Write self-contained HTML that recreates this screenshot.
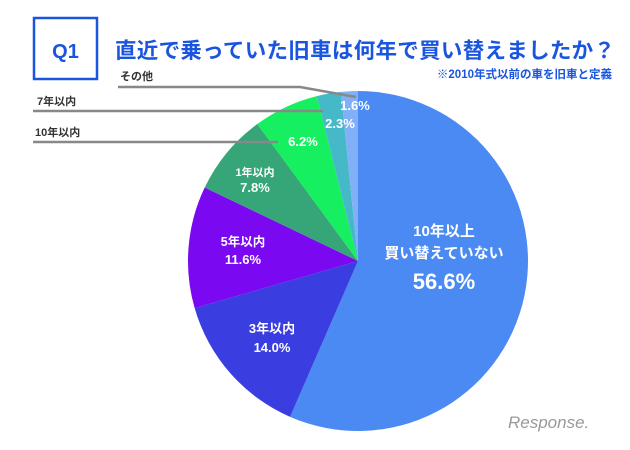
<!DOCTYPE html>
<html><head><meta charset="utf-8"><style>
body{margin:0;width:630px;height:445px;background:#fff;overflow:hidden;font-family:"Liberation Sans","Noto Sans CJK JP",sans-serif}
</style></head><body>
<svg width="630" height="445">
<rect x="34" y="18" width="63" height="61" fill="none" stroke="#1a55e0" stroke-width="2.5"/>
<text x="65.5" y="58" text-anchor="middle" font-size="20" font-weight="bold" fill="#1a55e0">Q1</text>
<text x="115" y="58" font-size="21.5" font-weight="bold" fill="#1a55e0" textLength="500">直近で乗っていた旧車は何年で買い替えましたか？</text>
<text x="612" y="78" text-anchor="end" font-size="11.5" font-weight="bold" fill="#1a55e0">※2010年式以前の車を旧車と定義</text>
<g id="slices"></g>
<g id="leaders" stroke="#888" stroke-width="2.5" fill="none">
<polyline points="118,87 300,87 356,97"/>
<line x1="33" y1="111" x2="323" y2="111"/>
<line x1="33" y1="142" x2="278" y2="142"/>
</g>
<g font-size="11" font-weight="bold" fill="#333">
<text x="120" y="80">その他</text>
<text x="37" y="105">7年以内</text>
<text x="35" y="136">10年以内</text>
</g>
<g fill="#fff" font-weight="bold" text-anchor="middle">
<text x="355" y="110" font-size="13">1.6%</text>
<text x="340" y="128" font-size="13">2.3%</text>
<text x="303" y="146" font-size="13">6.2%</text>
<text x="255" y="176" font-size="11">1年以内</text>
<text x="255" y="192" font-size="13">7.8%</text>
<text x="243" y="246" font-size="12.5">5年以内</text>
<text x="243" y="264" font-size="13">11.6%</text>
<text x="272" y="333" font-size="13">3年以内</text>
<text x="272" y="352" font-size="13">14.0%</text>
<text x="444" y="236" font-size="15">10年以上</text>
<text x="444" y="258" font-size="15">買い替えていない</text>
<text x="444" y="289" font-size="22">56.6%</text>
</g>
<text x="508" y="428" font-size="17" fill="#999" font-style="italic">Response.</text>
</svg>
<script>
const categories=["10年以上買い替えていない","3年以内","5年以内","1年以内","10年以内","7年以内","その他"];
const values=[56.6,14.0,11.6,7.8,6.2,2.3,1.6];
const colors=["#4a8af2","#3a3de0","#7a08f0","#36a678","#16f060","#45b9c8","#82b0f8"];
const cx=358,cy=261,r=170;
const g=document.getElementById('slices');
const total=values.reduce((a,b)=>a+b,0);
let a0=0;
values.forEach((v,i)=>{
  const a1=a0+v/total*2*Math.PI;
  const p=(a)=>[cx+r*Math.sin(a),cy-r*Math.cos(a)];
  const [x0,y0]=p(a0),[x1,y1]=p(a1);
  const path=document.createElementNS('http://www.w3.org/2000/svg','path');
  path.setAttribute('d',`M${cx},${cy}L${x0},${y0}A${r},${r} 0 ${a1-a0>Math.PI?1:0} 1 ${x1},${y1}Z`);
  path.setAttribute('fill',colors[i]);
  
  
  g.appendChild(path);
  a0=a1;
});
</script>
</body></html>
